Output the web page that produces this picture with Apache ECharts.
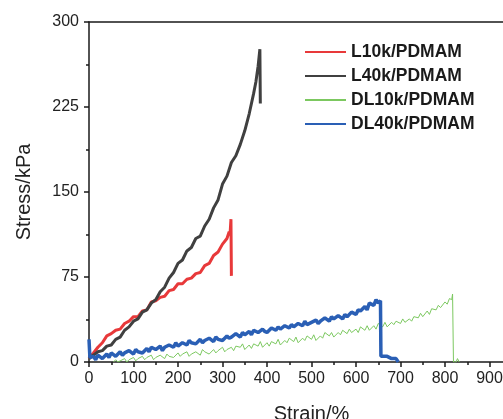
<!DOCTYPE html>
<html>
<head>
<meta charset="utf-8">
<script src="https://cdn.jsdelivr.net/npm/echarts@6/dist/echarts.min.js"></script>
<style>html,body{margin:0;padding:0;background:#fff}#c{width:503px;height:419px}</style>
</head>
<body>
<div id="c"></div>
<script>
var seriesNames = ['L10k/PDMAM', 'L40k/PDMAM', 'DL10k/PDMAM', 'DL40k/PDMAM'];
var xTicks = [0, 100, 200, 300, 400, 500, 600, 700, 800, 900];
var yTicks = [0, 75, 150, 225, 300];

var l10k = [[0,3],[5,6],[10,8],[20,13],[30,17],[40,23],[50,25],[60,28],[70,29],[80,34],[90,36],[100,40],[110,40],[120,45],[130,46],[140,53],[150,54],[160,57],[170,58],[180,63],[190,64],[200,69],[210,69],[220,73],[230,74],[240,78],[250,79],[260,85],[270,87],[280,94],[290,97],[300,104],[310,109],[315,115],[317,113],[319,126],[320,76]];

var l40k = [[0,3],[5,5],[10,6],[20,9],[30,10],[40,14],[50,15],[60,20],[70,22],[80,28],[90,31],[100,36],[110,38],[120,44],[130,46],[140,52],[150,55],[160,62],[170,66],[180,74],[190,79],[200,87],[210,90],[220,98],[230,101],[240,109],[250,111],[260,120],[270,126],[280,136],[290,143],[300,157],[310,164],[320,176],[330,182],[340,192],[350,204],[360,219],[370,237],[375,247],[380,261],[384,276],[385,228]];

var dl10k = [[55,0],[60,2],[65,0],[70,1],[80,3],[85,0],[90,2],[100,4],[105,1],[110,3],[120,5],[125,2],[130,4],[140,6],[145,2],[150,4],[160,6],[170,3],[175,7],[180,5],[190,4],[200,8],[205,5],[210,7],[220,9],[225,5],[230,7],[240,9],[250,6],[255,11],[260,9],[270,7],[280,11],[285,8],[290,10],[300,13],[305,9],[310,11],[320,13],[325,10],[330,14],[340,13],[345,16],[350,11],[360,15],[365,12],[370,16],[380,14],[385,18],[390,13],[400,17],[405,14],[410,18],[420,16],[425,20],[430,15],[440,19],[445,17],[450,21],[460,18],[465,22],[470,17],[480,21],[485,19],[490,23],[500,20],[505,24],[510,19],[520,23],[525,21],[530,26],[540,23],[545,26],[550,22],[560,26],[565,24],[570,28],[580,25],[585,29],[590,26],[600,29],[605,26],[610,31],[620,28],[625,32],[630,28],[640,32],[645,29],[650,34],[660,31],[665,35],[670,31],[680,35],[685,33],[690,36],[700,34],[705,38],[710,35],[720,38],[725,36],[730,40],[740,39],[745,43],[750,40],[760,45],[765,42],[770,47],[780,46],[785,50],[790,48],[800,53],[805,51],[810,56],[815,55],[817,60],[819,0],[825,0],[828,3],[832,0]];

var dl40k = [[0,20],[2,4],[10,5],[15,2],[20,6],[30,3],[40,7],[45,4],[50,8],[60,5],[70,9],[75,6],[80,8],[90,10],[100,7],[105,11],[110,9],[120,8],[130,12],[135,9],[140,13],[150,11],[160,14],[165,10],[170,13],[180,15],[190,13],[195,17],[200,14],[210,17],[220,15],[225,19],[230,17],[240,16],[250,20],[255,17],[260,19],[270,21],[280,18],[285,22],[290,20],[300,19],[310,23],[315,21],[320,22],[330,25],[340,22],[345,26],[350,24],[360,27],[365,24],[370,28],[380,26],[390,29],[395,27],[400,26],[410,30],[420,28],[425,31],[430,29],[440,32],[450,30],[455,33],[460,31],[470,34],[480,32],[485,36],[490,33],[500,35],[510,37],[515,34],[520,36],[530,39],[540,36],[545,40],[550,38],[560,41],[570,38],[575,42],[580,40],[590,44],[600,42],[605,46],[610,45],[620,49],[625,46],[630,52],[640,50],[645,55],[650,52],[655,54],[656,5],[660,4],[670,5],[680,3],[690,3],[695,0]];

var dataSets = [l10k, l40k, dl10k, dl40k];
var colors = ['#e8393a', '#404040', '#7cc860', '#2a5fb5'];
var widths = [3, 3, 1, 3.5];

var chart = echarts.init(document.getElementById('c'), null, {renderer: 'canvas'});
var axisColor = '#1a1a1a';
var fontFam = 'Liberation Sans, Arial, sans-serif';

chart.setOption({
  animation: false,
  backgroundColor: '#fff',
  grid: {left: 89, top: 22, width: 445, height: 340, containLabel: false, outerBoundsMode: 'none'},
  legend: {
    data: seriesNames,
    orient: 'vertical',
    left: 300,
    top: 38,
    itemWidth: 41,
    itemHeight: 14,
    itemGap: 6,
    icon: 'path://M0,6 L40,6 L40,8 L0,8 Z',
    textStyle: {fontSize: 17.5, fontWeight: 'bold', color: '#1a1a1a', fontFamily: fontFam}
  },
  xAxis: [{
    type: 'value', min: 0, max: 1000, interval: 100,
    name: 'Strain/%', nameLocation: 'middle', nameGap: 42,
    nameTextStyle: {fontSize: 20, color: '#222', fontFamily: fontFam},
    axisLine: {lineStyle: {color: axisColor, width: 1.5}},
    axisTick: {show: true, length: 5, inside: false, lineStyle: {color: axisColor, width: 1.5}},
    minorTick: {show: true, splitNumber: 2, length: 3, lineStyle: {color: axisColor, width: 1.5}},
    axisLabel: {fontSize: 16, color: '#222', margin: 9, fontFamily: fontFam,
      formatter: function (v) { return xTicks.indexOf(v) >= 0 ? String(v) : ''; }},
    splitLine: {show: false}
  }, {
    type: 'value', position: 'top', min: 0, max: 1000,
    axisLine: {show: true, lineStyle: {color: axisColor, width: 1.5}},
    axisTick: {show: false}, axisLabel: {show: false}, splitLine: {show: false}
  }],
  yAxis: {
    type: 'value', min: 0, max: 300, interval: 75,
    name: 'Stress/kPa', nameLocation: 'middle', nameGap: 55, nameRotate: 90,
    nameTextStyle: {fontSize: 20, color: '#222', fontFamily: fontFam},
    axisLine: {show: true, lineStyle: {color: axisColor, width: 1.5}},
    axisTick: {show: true, length: 5, lineStyle: {color: axisColor, width: 1.5}},
    minorTick: {show: true, splitNumber: 2, length: 3, lineStyle: {color: axisColor, width: 1.5}},
    axisLabel: {fontSize: 16, color: '#222', margin: 10, fontFamily: fontFam,
      formatter: function (v) { return yTicks.indexOf(v) >= 0 ? String(v) : ''; }},
    splitLine: {show: false}
  },
  series: seriesNames.map(function (n, i) {
    return {
      name: n, type: 'line', xAxisIndex: 0, data: dataSets[i],
      showSymbol: false, symbol: 'none', clip: true,
      lineStyle: {color: colors[i], width: widths[i]},
      itemStyle: {color: colors[i]}
    };
  })
});
</script>
</body>
</html>
